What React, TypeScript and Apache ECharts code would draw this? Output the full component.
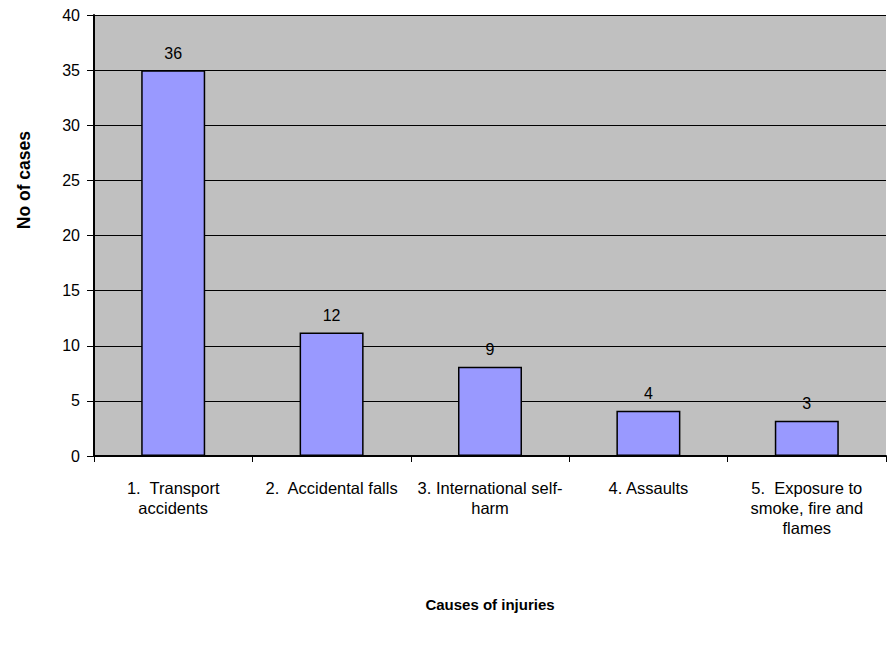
import React, { useEffect, useRef } from "react";
import * as echarts from "echarts";

const categories = [
  "1.  Transport\naccidents",
  "2.  Accidental falls",
  "3. International self-\nharm",
  "4. Assaults",
  "5.  Exposure to\nsmoke, fire and\nflames",
];
const barValues = [35, 11.2, 8.1, 4.1, 3.2];
const barLabels = ["36", "12", "9", "4", "3"];
const yTicks = { min: 0, max: 40, interval: 5 };
const xTitle = "Causes of injuries";
const yTitle = "No of cases";

const FONT = "Arial, 'Liberation Sans', sans-serif";

export default function App() {
  const ref = useRef<HTMLDivElement>(null);
  useEffect(() => {
    if (!ref.current) return;
    const chart = echarts.init(ref.current, null, { renderer: "svg" });
    chart.setOption({
      animation: false,
      grid: {
        left: 94,
        right: 2,
        top: 15,
        bottom: 207,
        show: true,
        backgroundColor: "#C0C0C0",
        borderWidth: 0,
      },
      xAxis: {
        type: "category",
        data: categories,
        name: xTitle,
        nameLocation: "middle",
        nameGap: 141,
        nameTextStyle: { fontFamily: FONT, fontSize: 15, fontWeight: "bold", color: "#000" },
        axisLine: { lineStyle: { color: "#000", width: 2 } },
        axisTick: { show: true, length: 6, lineStyle: { color: "#000", width: 1 } },
        axisLabel: {
          interval: 0,
          fontFamily: FONT,
          fontSize: 16.5,
          color: "#000",
          lineHeight: 20,
          margin: 22,
          verticalAlign: "top",
        },
      },
      yAxis: {
        type: "value",
        min: yTicks.min,
        max: yTicks.max,
        interval: yTicks.interval,
        axisLine: { show: true, lineStyle: { color: "#000", width: 2 } },
        axisTick: { show: true, length: 7, lineStyle: { color: "#000", width: 1 } },
        axisLabel: { fontFamily: FONT, fontSize: 16, color: "#000", margin: 14 },
        splitLine: { show: true, lineStyle: { color: "#000", width: 1 } },
      },
      graphic: [
        {
          type: "text",
          left: 15,
          top: 131,
          rotation: Math.PI / 2,
          style: {
            text: yTitle,
            fontFamily: FONT,
            fontSize: 17.5,
            fontWeight: "bold",
            fill: "#000",
          },
        },
      ],
      series: [
        {
          type: "bar",
          data: barValues.map((v, i) => ({
            value: v,
            label: { formatter: barLabels[i] },
          })),
          barWidth: 64,
          itemStyle: { color: "#9999FF", borderColor: "#000", borderWidth: 1.5 },
          label: {
            show: true,
            position: "top",
            distance: 9,
            fontFamily: FONT,
            fontSize: 16,
            color: "#000",
          },
        },
      ],
    });
    return () => chart.dispose();
  }, []);
  return <div ref={ref} style={{ width: 888, height: 663, position: "absolute", left: 0, top: 0 }} />;
}
